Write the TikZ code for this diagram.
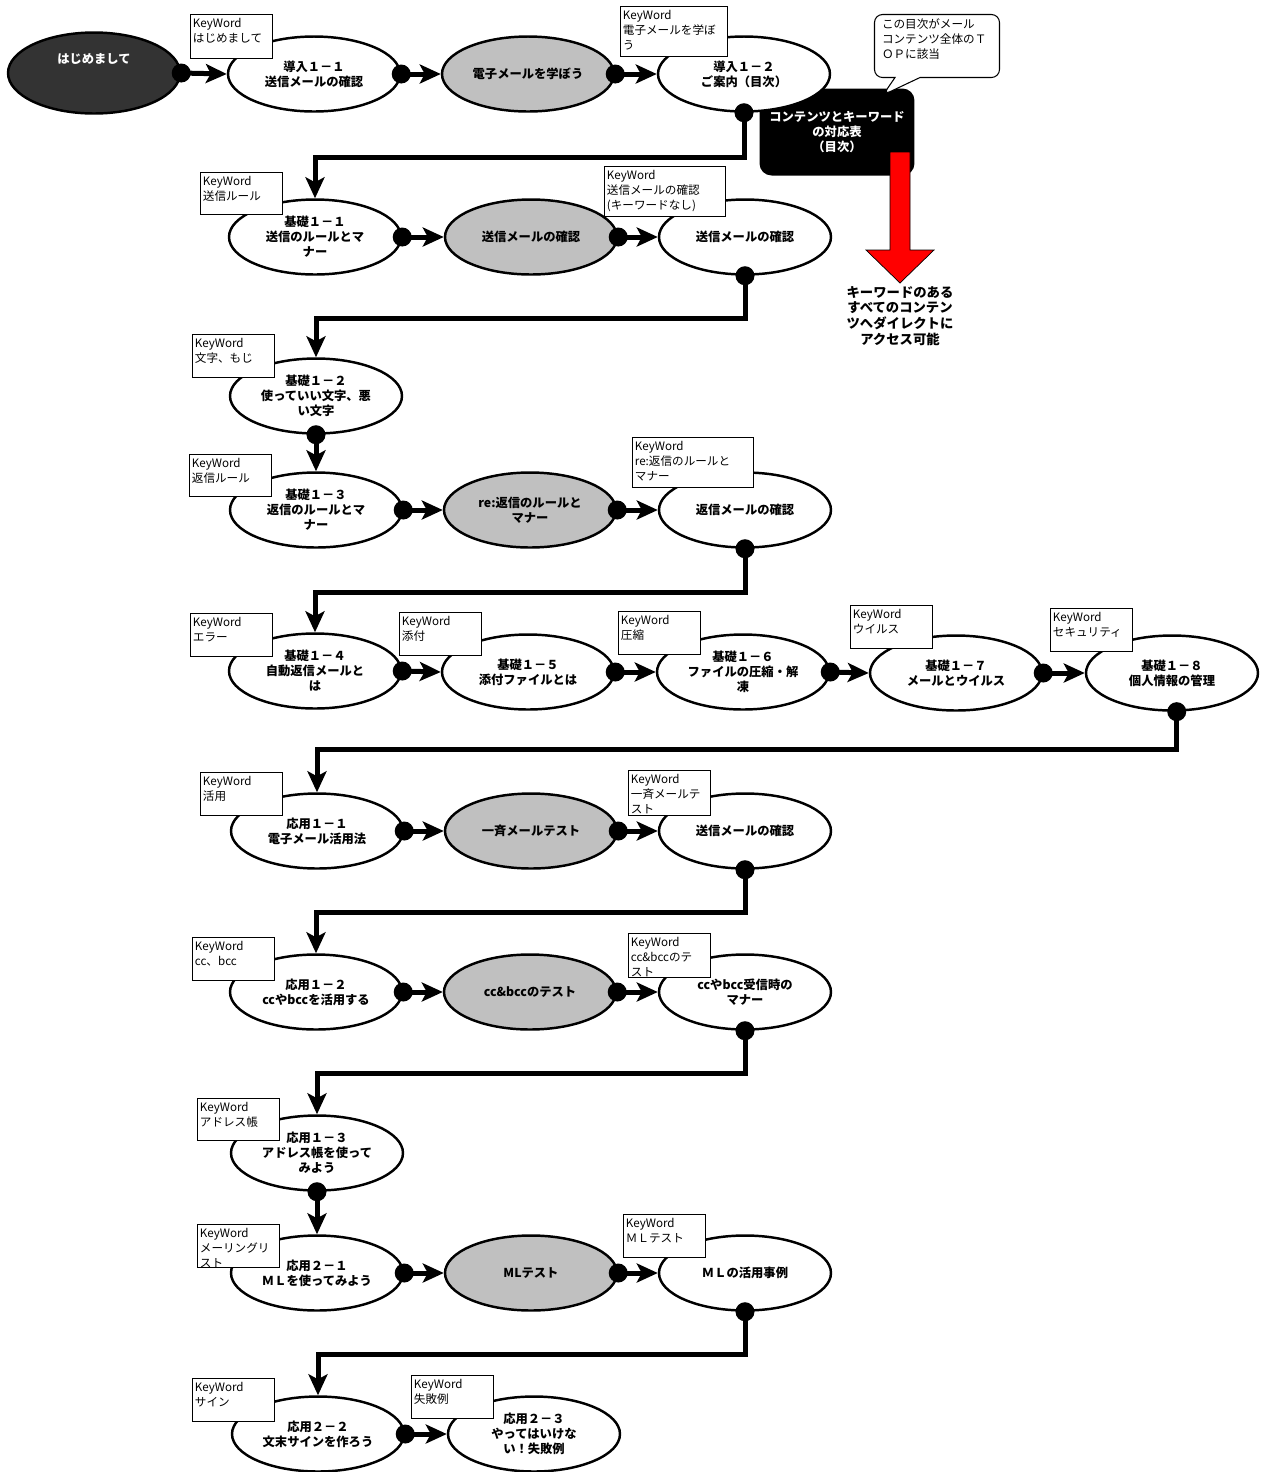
\documentclass[tikz,border=0pt]{standalone}
\usepackage{fontspec}
\setmainfont{Noto Sans CJK JP}
\usepackage{tikz}
\usetikzlibrary{arrows.meta,shapes.geometric,shapes.callouts}
\definecolor{quizgray}{RGB}{192,192,192}
\definecolor{introdark}{RGB}{51,51,51}
\newcommand{\topicfont}{\bfseries\fontsize{7}{8.5}\selectfont}
\newcommand{\kwfont}{\fontsize{6.6}{8.5}\selectfont}

\begin{document}
\begin{tikzpicture}[x=0.02cm, y=-0.02cm,
  topic/.style={ellipse, draw, line width=1.4pt, fill=white, minimum width=3.44cm,
    minimum height=1.5cm, inner sep=0pt, align=center, font=\topicfont},
  quiz/.style={topic, fill=quizgray},
  link/.style={line width=0.1cm, -{Stealth[length=0.42cm,width=0.38cm,inset=0.1cm]}},
  dot/.style={fill=black},
  kw/.style={draw, line width=0.5pt, fill=white, anchor=north west, align=left,
    inner xsep=0.05cm, inner ysep=0.04cm, text width=1.54cm, text height=0.22cm,
    text depth=0.56cm, font=\kwfont},
  note/.style={rectangle callout, draw, line width=0.6pt, fill=white, rounded corners=0.16cm,
    callout pointer width=0.5cm, align=left, inner xsep=0.15cm, inner ysep=0.06cm,
    text width=2.2cm, text height=0.22cm, text depth=0.92cm, font=\kwfont}]
  \useasboundingbox (0,0) rectangle (1262,1472);

  % table of contents box, callout and red arrow
  \node[fill=black, text=white, rounded corners=0.24cm, minimum width=3.1cm, minimum height=1.74cm,
    align=center, font=\topicfont] (toc) at (837,132) {コンテンツとキーワード\\の対応表\\（目次）};
  \filldraw[fill=red, draw=black, line width=0.4pt] (890,152) -- (910,152) -- (910,250) -- (934,250)
    -- (900,283) -- (866,250) -- (890,250) -- cycle;
  \node[align=center, font=\bfseries\fontsize{7.6}{9}\selectfont] (access) at (900,316)
    {キーワードのある\\すべてのコンテン\\ツへダイレクトに\\アクセス可能};
  \coordinate (notetip) at (883,95);
  \node[note, callout absolute pointer={(notetip)}] (note) at (937,46)
    {この目次がメール\\コンテンツ全体のＴ\\ＯＰに該当};

  % row 1
  \node[topic, fill=introdark, text=white, minimum height=1.62cm, text depth=0.6cm] (hello) at (94,73) {はじめまして};
  \node[topic] (intro11) at (314,74) {導入１－１\\送信メールの確認};
  \node[quiz] (learn) at (528,74) {電子メールを学ぼう};
  \node[topic] (intro12) at (744,74) {導入１－２\\ご案内（目次）};
  % row 2
  \node[topic] (basic11) at (315,237) {基礎１－１\\送信のルールとマ\\ナー};
  \node[quiz] (send) at (531,237) {送信メールの確認};
  \node[topic] (sendchk) at (745,237) {送信メールの確認};
  % row 3
  \node[topic] (basic12) at (316,396) {基礎１－２\\使っていい文字、悪\\い文字};
  % row 4
  \node[topic] (basic13) at (316,510) {基礎１－３\\返信のルールとマ\\ナー};
  \node[quiz] (reply) at (530,510) {re:返信のルールと\\マナー};
  \node[topic] (replychk) at (745,510) {返信メールの確認};
  % row 5
  \node[topic] (basic14) at (315,671) {基礎１－４\\自動返信メールと\\は};
  \node[topic] (basic15) at (528,672) {基礎１－５\\添付ファイルとは};
  \node[topic] (basic16) at (743,672) {基礎１－６\\ファイルの圧縮・解\\凍};
  \node[topic] (basic17) at (956,673) {基礎１－７\\メールとウイルス};
  \node[topic] (basic18) at (1172,673) {基礎１－８\\個人情報の管理};
  % row 6
  \node[topic] (apply11) at (317,831) {応用１－１\\電子メール活用法};
  \node[quiz] (bulk) at (531,831) {一斉メールテスト};
  \node[topic] (bulkchk) at (745,831) {送信メールの確認};
  % row 7
  \node[topic] (apply12) at (316,992) {応用１－２\\ccやbccを活用する};
  \node[quiz] (ccbcc) at (530,992) {cc\&bccのテスト};
  \node[topic] (ccmanner) at (745,992) {ccやbcc受信時の\\マナー};
  % row 8
  \node[topic] (apply13) at (317,1153) {応用１－３\\アドレス帳を使って\\みよう};
  % row 9
  \node[topic] (apply21) at (317,1273) {応用２－１\\ＭＬを使ってみよう};
  \node[quiz] (ml) at (531,1273) {MLテスト};
  \node[topic] (mlcase) at (745,1273) {ＭＬの活用事例};
  % row 10
  \node[topic] (apply22) at (318,1434) {応用２－２\\文末サインを作ろう};
  \node[topic] (apply23) at (534,1434) {応用２－３\\やってはいけな\\い！失敗例};

  % connectors
  \draw[link] (hello.east) -- (intro11.west);
  \draw[link] (intro11.east) -- (learn.west);
  \draw[link] (learn.east) -- (intro12.west);
  \draw[link] (intro12.south) -- ++(0,45) -| (basic11.north);
  \draw[link] (basic11.east) -- (send.west);
  \draw[link] (send.east) -- (sendchk.west);
  \draw[link] (sendchk.south) -- ++(0,43) -| (basic12.north);
  \draw[link] (basic12.south) -- (basic13.north);
  \draw[link] (basic13.east) -- (reply.west);
  \draw[link] (reply.east) -- (replychk.west);
  \draw[link] (replychk.south) -- ++(0,44) -| (basic14.north);
  \draw[link] (basic14.east) -- (basic15.west);
  \draw[link] (basic15.east) -- (basic16.west);
  \draw[link] (basic16.east) -- (basic17.west);
  \draw[link] (basic17.east) -- (basic18.west);
  \draw[link] (basic18.-83) -- ++(0,38) -| (apply11.north);
  \draw[link] (apply11.east) -- (bulk.west);
  \draw[link] (bulk.east) -- (bulkchk.west);
  \draw[link] (bulkchk.south) -- ++(0,43) -| (apply12.north);
  \draw[link] (apply12.east) -- (ccbcc.west);
  \draw[link] (ccbcc.east) -- (ccmanner.west);
  \draw[link] (ccmanner.south) -- ++(0,43) -| (apply13.north);
  \draw[link] (apply13.south) -- (apply21.north);
  \draw[link] (apply21.east) -- (ml.west);
  \draw[link] (ml.east) -- (mlcase.west);
  \draw[link] (mlcase.south) -- ++(0,43) -| (apply22.north);
  \draw[link] (apply22.east) -- (apply23.west);

  % dots at the start of each connector
  \fill[dot] (hello.east) circle (0.19cm);
  \fill[dot] (intro11.east) circle (0.19cm);
  \fill[dot] (learn.east) circle (0.19cm);
  \fill[dot] (intro12.south) circle (0.19cm);
  \fill[dot] (basic11.east) circle (0.19cm);
  \fill[dot] (send.east) circle (0.19cm);
  \fill[dot] (sendchk.south) circle (0.19cm);
  \fill[dot] (basic12.south) circle (0.19cm);
  \fill[dot] (basic13.east) circle (0.19cm);
  \fill[dot] (reply.east) circle (0.19cm);
  \fill[dot] (replychk.south) circle (0.19cm);
  \fill[dot] (basic14.east) circle (0.19cm);
  \fill[dot] (basic15.east) circle (0.19cm);
  \fill[dot] (basic16.east) circle (0.19cm);
  \fill[dot] (basic17.east) circle (0.19cm);
  \fill[dot] (basic18.-83) circle (0.19cm);
  \fill[dot] (apply11.east) circle (0.19cm);
  \fill[dot] (bulk.east) circle (0.19cm);
  \fill[dot] (bulkchk.south) circle (0.19cm);
  \fill[dot] (apply12.east) circle (0.19cm);
  \fill[dot] (ccbcc.east) circle (0.19cm);
  \fill[dot] (ccmanner.south) circle (0.19cm);
  \fill[dot] (apply13.south) circle (0.19cm);
  \fill[dot] (apply21.east) circle (0.19cm);
  \fill[dot] (ml.east) circle (0.19cm);
  \fill[dot] (mlcase.south) circle (0.19cm);
  \fill[dot] (apply22.east) circle (0.19cm);

  % keyword boxes
  \node[kw, text depth=0.58cm] (kwhello) at (190,14) {KeyWord\\はじめまして};
  \node[kw, text width=2.04cm, text depth=0.7cm] (kwlearn) at (620,6) {KeyWord\\電子メールを学ぼ\\う};
  \node[kw, text depth=0.54cm] (kwbasic11) at (200,172) {KeyWord\\送信ルール};
  \node[kw, text width=2.32cm, text depth=0.7cm] (kwsend) at (604,166) {KeyWord\\送信メールの確認\\(キーワードなし)};
  \node[kw] (kwbasic12) at (192,334) {KeyWord\\文字、もじ};
  \node[kw, text depth=0.54cm] (kwbasic13) at (189,454) {KeyWord\\返信ルール};
  \node[kw, text width=2.32cm, text depth=0.7cm] (kwreply) at (632,437) {KeyWord\\re:返信のルールと\\マナー};
  \node[kw] (kwbasic14) at (190,613) {KeyWord\\エラー};
  \node[kw] (kwbasic15) at (399,612) {KeyWord\\添付};
  \node[kw] (kwbasic16) at (618,611) {KeyWord\\圧縮};
  \node[kw] (kwbasic17) at (850,605) {KeyWord\\ウイルス};
  \node[kw] (kwbasic18) at (1050,608) {KeyWord\\セキュリティ};
  \node[kw] (kwapply11) at (200,772) {KeyWord\\活用};
  \node[kw, text depth=0.6cm] (kwbulk) at (628,770) {KeyWord\\一斉メールテ\\スト};
  \node[kw] (kwapply12) at (192,937) {KeyWord\\cc、bcc};
  \node[kw, text depth=0.58cm] (kwccbcc) at (628,933) {KeyWord\\cc\&bccのテ\\スト};
  \node[kw, text depth=0.54cm] (kwapply13) at (197,1098) {KeyWord\\アドレス帳};
  \node[kw] (kwapply21) at (197,1224) {KeyWord\\メーリングリ\\スト};
  \node[kw] (kwml) at (623,1214) {KeyWord\\ＭＬテスト};
  \node[kw] (kwapply22) at (192,1378) {KeyWord\\サイン};
  \node[kw] (kwapply23) at (411,1375) {KeyWord\\失敗例};
\end{tikzpicture}
\end{document}
